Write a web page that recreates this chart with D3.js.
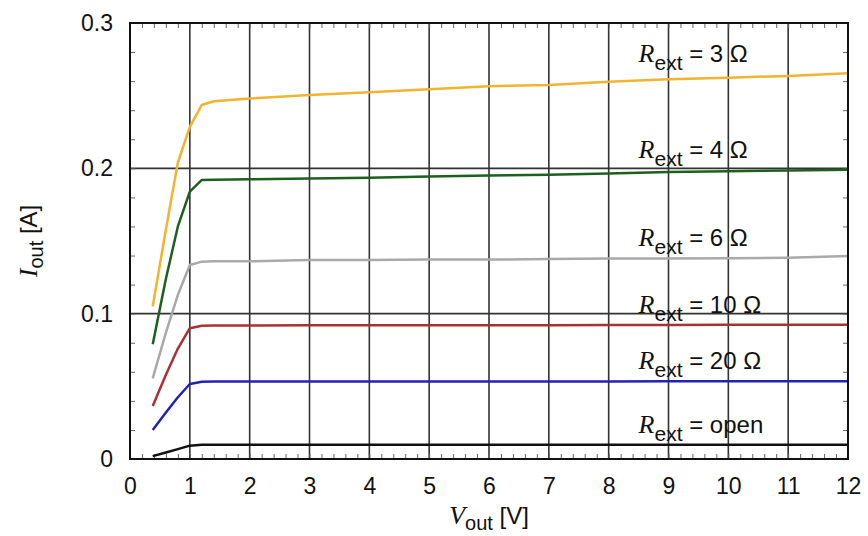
<!DOCTYPE html>
<html>
<head>
	<script src="https://cdn.jsdelivr.net/npm/d3@7"></script>
	<style>
		body { margin: 0; background: #fff; }
		text { font-family: "Liberation Sans", Arial, sans-serif; }
		.it { font-family: "Liberation Serif", "Times New Roman", serif; font-style: italic; }
	</style>
</head>
<body>
	<div id="chart"></div>
	<script>
		// measured output voltage [V]
		var vOut = [0.38, 0.6, 0.8, 1.0, 1.2, 1.4, 2, 3, 4, 5, 6, 7, 8, 9, 10, 11, 12];

		// output current [A] per external resistance
		var iR3    = [0.105, 0.158, 0.204, 0.2285, 0.2436, 0.2462, 0.248, 0.2505, 0.2524, 0.2544, 0.2565, 0.2574, 0.2595, 0.2613, 0.2624, 0.2636, 0.2654];
		var iR4    = [0.079, 0.124, 0.160, 0.184, 0.192, 0.1922, 0.1925, 0.193, 0.1935, 0.1943, 0.195, 0.1955, 0.1965, 0.1975, 0.198, 0.1985, 0.199];
		var iR6    = [0.0555, 0.087, 0.113, 0.1335, 0.1358, 0.136, 0.136, 0.137, 0.137, 0.1372, 0.1372, 0.1376, 0.138, 0.138, 0.1382, 0.1385, 0.1397];
		var iR10   = [0.0365, 0.058, 0.076, 0.090, 0.0917, 0.0918, 0.0918, 0.092, 0.092, 0.092, 0.0921, 0.0921, 0.0922, 0.0922, 0.0923, 0.0923, 0.0924];
		var iR20   = [0.020, 0.032, 0.0425, 0.0516, 0.0532, 0.0533, 0.0533, 0.0533, 0.0534, 0.0534, 0.0534, 0.0534, 0.0534, 0.0535, 0.0535, 0.0535, 0.0535];
		var iOpen  = [0.002, 0.0045, 0.0068, 0.0092, 0.0098, 0.0098, 0.0098, 0.0098, 0.0098, 0.0098, 0.0098, 0.0098, 0.0098, 0.0098, 0.0098, 0.0098, 0.0098];

		var seriesNames  = ["3 \u03A9", "4 \u03A9", "6 \u03A9", "10 \u03A9", "20 \u03A9", "open"];
		var seriesValues = [iR3, iR4, iR6, iR10, iR20, iOpen];
		var seriesColors = ["#f2b32e", "#1d5f1d", "#a9a9a9", "#a83232", "#2222b4", "#111111"];

		// label anchors in data units
		var labelV = [8.5, 8.5, 8.5, 8.5, 8.5, 8.5];
		var labelI = [0.2732, 0.2072, 0.1466, 0.1007, 0.0620, 0.0179];

		var xTicks = d3.range(0, 13, 1);
		var yTicks = [0, 0.1, 0.2, 0.3];

		var width = 868,
			height = 536,
			margin = {top: 23, right: 20, bottom: 77, left: 130};

		var svg = d3.select("#chart").append("svg")
			.attr("width", width)
			.attr("height", height);

		var x = d3.scaleLinear()
			.domain([0, 12])
			.range([margin.left, width - margin.right]);

		var y = d3.scaleLinear()
			.domain([0, 0.3])
			.range([height - margin.bottom, margin.top]);

		// grid
		svg.append("g")
			.selectAll("line")
			.data(xTicks.slice(1, -1))
			.enter().append("line")
			.attr("x1", function(d) { return x(d); })
			.attr("x2", function(d) { return x(d); })
			.attr("y1", y(0))
			.attr("y2", y(0.3))
			.attr("stroke", "#333")
			.attr("stroke-width", 1.6);

		svg.append("g")
			.selectAll("line")
			.data(yTicks.slice(1, -1))
			.enter().append("line")
			.attr("x1", x(0))
			.attr("x2", x(12))
			.attr("y1", function(d) { return y(d); })
			.attr("y2", function(d) { return y(d); })
			.attr("stroke", "#333")
			.attr("stroke-width", 1.6);

		// minor ticks, pointing inward on all sides
		var xMinor = d3.range(0, 12.001, 0.2);
		var yMinor = d3.range(0, 0.3001, 0.02);

		function minor(g) {
			g.select(".domain").remove();
			g.selectAll("line").attr("stroke", "#666").attr("stroke-width", 1);
		}

		svg.append("g")
			.attr("transform", "translate(0," + y(0) + ")")
			.call(d3.axisBottom(x).tickValues(xMinor).tickSize(-5).tickFormat(""))
			.call(minor);
		svg.append("g")
			.attr("transform", "translate(0," + y(0.3) + ")")
			.call(d3.axisTop(x).tickValues(xMinor).tickSize(-5).tickFormat(""))
			.call(minor);
		svg.append("g")
			.attr("transform", "translate(" + x(0) + ",0)")
			.call(d3.axisLeft(y).tickValues(yMinor).tickSize(-5).tickFormat(""))
			.call(minor);
		svg.append("g")
			.attr("transform", "translate(" + x(12) + ",0)")
			.call(d3.axisRight(y).tickValues(yMinor).tickSize(-5).tickFormat(""))
			.call(minor);

		// tick labels
		svg.append("g")
			.attr("transform", "translate(0," + y(0) + ")")
			.call(d3.axisBottom(x).tickValues(xTicks).tickSize(0).tickPadding(19).tickFormat(d3.format("d")))
			.call(function(g) {
				g.select(".domain").remove();
				g.selectAll("text").attr("font-size", 23).attr("fill", "#111")
					.style("font-family", "'Liberation Sans', Arial, sans-serif");
			});

		svg.append("g")
			.attr("transform", "translate(" + x(0) + ",0)")
			.call(d3.axisLeft(y).tickValues(yTicks).tickSize(0).tickPadding(17)
				.tickFormat(function(d) { return d === 0 ? "0" : d3.format(".1f")(d); }))
			.call(function(g) {
				g.select(".domain").remove();
				g.selectAll("text").attr("font-size", 23).attr("fill", "#111")
					.style("font-family", "'Liberation Sans', Arial, sans-serif");
			});

		// curves
		var line = d3.line()
			.x(function(d) { return x(d[0]); })
			.y(function(d) { return y(d[1]); });

		svg.append("g")
			.selectAll("path")
			.data(seriesValues)
			.enter().append("path")
			.attr("d", function(vals) { return line(vals.map(function(v, i) { return [vOut[i], v]; })); })
			.attr("fill", "none")
			.attr("stroke", function(d, i) { return seriesColors[i]; })
			.attr("stroke-width", 2.5)
			.attr("stroke-linejoin", "round");

		// frame
		svg.append("rect")
			.attr("x", x(0))
			.attr("y", y(0.3))
			.attr("width", x(12) - x(0))
			.attr("height", y(0) - y(0.3))
			.attr("fill", "none")
			.attr("stroke", "#111")
			.attr("stroke-width", 2);

		// series labels
		var labels = svg.append("g")
			.selectAll("text")
			.data(seriesNames)
			.enter().append("text")
			.attr("x", function(d, i) { return x(labelV[i]); })
			.attr("y", function(d, i) { return y(labelI[i]); })
			.attr("font-size", 24)
			.attr("fill", "#111");

		labels.append("tspan").attr("class", "it").attr("font-size", 26).text("R");
		labels.append("tspan").attr("font-size", 21).attr("dy", 8).text("ext");
		labels.append("tspan").attr("dy", -8).text(function(d) { return " = " + d; });

		// axis titles
		var xt = svg.append("text")
			.attr("x", (x(0) + x(12)) / 2)
			.attr("y", 524)
			.attr("text-anchor", "middle")
			.attr("font-size", 24)
			.attr("fill", "#111");
		xt.append("tspan").attr("class", "it").attr("font-size", 26).text("V");
		xt.append("tspan").attr("font-size", 20).attr("dy", 6).text("out");
		xt.append("tspan").attr("dy", -6).text(" [V]");

		var yt = svg.append("text")
			.attr("transform", "translate(37," + ((y(0) + y(0.3)) / 2) + ") rotate(-90)")
			.attr("text-anchor", "middle")
			.attr("font-size", 24)
			.attr("fill", "#111");
		yt.append("tspan").attr("class", "it").attr("font-size", 26).text("I");
		yt.append("tspan").attr("font-size", 20).attr("dy", 6).text("out");
		yt.append("tspan").attr("dy", -6).text(" [A]");
	</script>
</body>
</html>
